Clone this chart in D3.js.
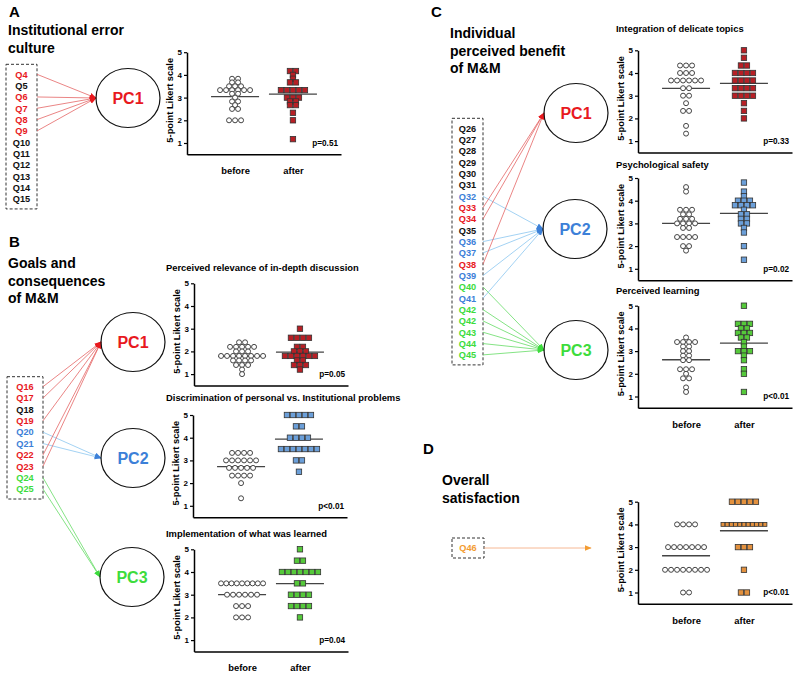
<!DOCTYPE html>
<html>
<head>
<meta charset="utf-8">
<script src="https://cdn.jsdelivr.net/npm/d3@7"></script>
<style>
body{margin:0;background:#fff;}
svg{font-family:"Liberation Sans",Arial,sans-serif;}
</style>
</head>
<body>
<div id="fig"></div>
<script>
// questionnaire items and the component each one loads on (0 = none, 4 = overall)
const qA = ["Q4","Q5","Q6","Q7","Q8","Q9","Q10","Q11","Q12","Q13","Q14","Q15"];
const qAGroup = [1,0,1,1,1,1,0,0,0,0,0,0];
const qB = ["Q16","Q17","Q18","Q19","Q20","Q21","Q22","Q23","Q24","Q25"];
const qBGroup = [1,1,0,1,2,2,1,1,3,3];
const qC = ["Q26","Q27","Q28","Q29","Q30","Q31","Q32","Q33","Q34","Q35","Q36","Q37","Q38","Q39","Q40","Q41","Q42","Q42","Q43","Q44","Q45"];
const qCGroup = [0,0,0,0,0,0,2,1,1,0,2,2,1,2,3,2,3,3,3,3,3];
const qD = ["Q46"];
const qDGroup = [4];
const pcNames = ["PC1","PC2","PC3"];

const groups = ["before","after"];
const likertTicks = [1,2,3,4,5];

// A - institutional error culture
const aBefore = [3.83,3.83,3.67,3.67,3.5,3.5,3.5,3.33,3.33,3.33,3.33,3.33,3.33,3.17,3.17,3.0,2.83,2.83,2.67,2.5,2.5,2.0,2.0,2.0];
const aAfter = [4.17,4.17,4.0,3.83,3.67,3.67,3.33,3.33,3.33,3.33,3.33,3.0,3.0,3.0,2.83,2.83,2.67,2.67,2.33,2.0,1.17];
const aMeans = [3.04,3.15];
// B - goals and consequences
const b1Before = [2.4,2.4,2.2,2.2,2.2,2.2,2.2,2.0,2.0,2.0,1.8,1.8,1.8,1.8,1.8,1.8,1.8,1.8,1.6,1.6,1.6,1.6,1.4,1.4,1.4,1.2,1.0];
const b1After = [3.0,2.6,2.6,2.6,2.6,2.2,2.2,2.0,2.0,2.0,1.8,1.8,1.8,1.8,1.8,1.8,1.6,1.6,1.4,1.4,1.4,1.2];
const b1Means = [1.78,1.97];
const b2Before = [3.33,3.33,3.33,3.33,3.0,3.0,3.0,3.0,3.0,3.0,2.67,2.67,2.67,2.67,2.67,2.33,2.33,2.33,2.33,2.0,1.33];
const b2After = [5,5,5,5,5,4.5,4.5,4,4,4,4,3.5,3.5,3.5,3.5,3.5,3.5,3.5,3,3,2.5];
const b2Means = [2.73,3.94];
const b3Before = [3.5,3.5,3.5,3.5,3.5,3.5,3.5,3.5,3.5,3,3,3,3,3,3,2.5,2.5,2.5,2,2,2];
const b3After = [5,4.5,4.5,4,4,4,4,4,4,4,3.5,3.5,3,3,3,3,2.5,2.5,2.5,2.5,2];
const b3Means = [3.0,3.49];
// C - individual perceived benefit
const c1Before = [4.33,4.33,4.33,4,4,4,3.67,3.67,3.67,3.67,3.67,3.67,3.33,3.33,3,3,2.67,2.33,2.33,1.67,1.33];
const c1After = [5,4.67,4.33,4.33,4,4,4,4,3.67,3.67,3.67,3.67,3.33,3.33,3.33,3.33,3,3,3,3,2.67,2.33,2];
const c1Means = [3.32,3.54];
const c2Before = [4.6,4.4,3.6,3.6,3.6,3.4,3.4,3.2,3.2,3.2,3.0,3.0,3.0,3.0,2.8,2.8,2.4,2.4,2.4,2.4,2.0,2.0,1.8];
const c2After = [4.8,4.4,4.2,4.0,4.0,4.0,3.8,3.8,3.8,3.8,3.6,3.4,3.4,3.2,3.2,3.0,3.0,2.8,2.6,2.0,1.4];
const c2Means = [3.0,3.44];
const c3Before = [3.6,3.4,3.4,3.4,3.4,3.2,3.2,3.0,3.0,2.8,2.8,2.6,2.6,2.2,2.2,2.2,2.0,1.8,1.8,1.4,1.2];
const c3After = [5,4.2,4.2,4.2,4.0,4.0,3.8,3.8,3.8,3.6,3.6,3.4,3.2,3.0,3.0,3.0,2.8,2.6,2.2,2.0,1.2];
const c3Means = [2.62,3.35];
// D - overall satisfaction
const dBefore = [4,4,4,4,3,3,3,3,3,3,3,2,2,2,2,2,2,2,2,1,1];
const dAfter = [5,5,5,5,5,4,4,4,4,4,4,4,4,4,4,4,3,3,3,2,1,1];
const dMeans = [2.62,3.72];

const pValues = ["p=0.51","p=0.05","p<0.01","p=0.04","p=0.33","p=0.02","p<0.01","p<0.01"];
const plotTitles = ["","Perceived relevance of in-depth discussion","Discrimination of personal vs. Institutional problems",
  "Implementation of what was learned","Integration of delicate topics","Psychological safety","Perceived learning",""];

const textColor = ["#111","#e8191e","#3c80d8","#3ddc3d","#f39c32"];
const lineColor = ["#111","#e46666","#8cc6f0","#66dc66","#f4a678"];
const fillColor = {1:"#b71f25",2:"#6b9fd9",3:"#55c93a",4:"#e3913e"};

const svg = d3.select("#fig").append("svg")
    .attr("width", 793)
    .attr("height", 676);

// arrow heads
svg.append("defs").selectAll("marker")
    .data(lineColor)
    .join("marker")
    .attr("id", (d,i) => "arr" + i)
    .attr("markerUnits", "userSpaceOnUse")
    .attr("markerWidth", 7).attr("markerHeight", 7)
    .attr("viewBox", "0 0 10 10")
    .attr("refX", 9).attr("refY", 5)
    .attr("orient", "auto")
    .append("path")
    .attr("d", "M0,1L10,5L0,9Z")
    .attr("fill", (d,i) => i == 0 ? "#111" : textColor[i]);

// panel headings
function heading(x, y, letter, lines, lx, ly){
    svg.append("text").attr("x", x).attr("y", y)
        .attr("font-size", 15).attr("font-weight", "bold").text(letter);
    lines.forEach((l,i) => {
        svg.append("text").attr("x", lx).attr("y", ly + i*17.5)
            .attr("font-size", 14).attr("font-weight", "bold").text(l);
    });
}
heading(9, 17, "A", ["Institutional error","culture"], 8, 35);
heading(9, 247, "B", ["Goals and","consequences","of M&M"], 8, 268);
heading(431, 17, "C", ["Individual","perceived benefit","of M&M"], 450, 38);
heading(423, 454, "D", ["Overall","satisfaction"], 442, 485);

// item box with arrows to the component circles
function diagram(items, itemGroup, box, circles){
    const g = svg.append("g");
    const yq = i => box.y0 + i*box.step;
    const last = yq(items.length - 1);
    g.append("rect")
        .attr("x", box.x).attr("y", box.y0 - 10)
        .attr("width", box.w).attr("height", last - box.y0 + 20)
        .attr("fill", "none").attr("stroke", "#333")
        .attr("stroke-width", 1).attr("stroke-dasharray", "3,2");

    items.forEach((q,i) => {
        const gr = itemGroup[i];
        const t = circles.find(c => c.group == gr);
        if (!t) return;
        g.append("line")
            .attr("x1", box.x + box.w).attr("y1", yq(i))
            .attr("x2", t.tx).attr("y2", t.ty)
            .attr("stroke", lineColor[gr]).attr("stroke-width", 0.8)
            .attr("marker-end", "url(#arr" + gr + ")");
    });

    g.selectAll("text.q")
        .data(items)
        .join("text")
        .attr("class", "q")
        .attr("x", box.x + box.w/2)
        .attr("y", (d,i) => yq(i) + 3.3)
        .attr("text-anchor", "middle")
        .attr("font-size", 9.2).attr("font-weight", "bold")
        .attr("fill", (d,i) => textColor[itemGroup[i]])
        .text(d => d);

    circles.filter(c => c.name).forEach(c => {
        g.append("ellipse")
            .attr("cx", c.cx).attr("cy", c.cy).attr("rx", 32).attr("ry", 29.5)
            .attr("fill", "none").attr("stroke", "#111").attr("stroke-width", 1.2);
        g.append("text")
            .attr("x", c.cx).attr("y", c.cy + 5.5)
            .attr("text-anchor", "middle")
            .attr("font-size", 16).attr("font-weight", "bold")
            .attr("fill", textColor[c.group])
            .text(c.name);
    });
}

const pc = (name, group, cx, cy) => ({name, group, cx, cy, tx: cx - 32, ty: cy});

diagram(qA, qAGroup, {x: 6, w: 31, y0: 74.3, step: 11.33},
    [pc(pcNames[0], 1, 128, 98)]);
diagram(qB, qBGroup, {x: 7, w: 36, y0: 386.7, step: 11.37},
    [pc(pcNames[0], 1, 133, 342), pc(pcNames[1], 2, 133, 458), pc(pcNames[2], 3, 132, 577)]);
diagram(qC, qCGroup, {x: 452, w: 31, y0: 128.3, step: 11.33},
    [pc(pcNames[0], 1, 576, 113), pc(pcNames[1], 2, 575, 229), pc(pcNames[2], 3, 576, 350)]);
diagram(qD, qDGroup, {x: 452, w: 32, y0: 548, step: 11.33},
    [{name: "", group: 4, tx: 591, ty: 548}]);

// before / after dot plots
function rows(vals){
    const out = [];
    d3.groups(vals, v => v.toFixed(2)).forEach(([k, vs]) => {
        const n = vs.length;
        const pitch = n > 1 ? Math.min(6, 42/(n-1)) : 6;
        vs.forEach((v,i) => out.push({v: v, dx: (i - (n-1)/2)*pitch, pitch: pitch}));
    });
    return out;
}

function dotPlot(p){
    const w = 154, unit = 22.7;
    const x = d3.scalePoint().domain(groups).range([0, w]).padding(0.83);
    const y = d3.scaleLinear().domain([0.5, 5]).range([4.5*unit, 0]);

    const g = svg.append("g").attr("transform", "translate(" + p.x + "," + p.y + ")");

    if (p.title) {
        svg.append("text")
            .attr("x", p.tx).attr("y", p.ty)
            .attr("font-size", 9.4).attr("font-weight", "bold")
            .text(p.title);
    }

    const ya = g.append("g")
        .call(d3.axisLeft(y).tickValues(likertTicks).tickFormat(d3.format("d"))
            .tickSize(3).tickSizeOuter(0).tickPadding(2));
    ya.selectAll("text").attr("font-size", 8).attr("font-weight", "bold")
        .attr("font-family", "Liberation Sans, Arial, sans-serif");

    const xa = g.append("g")
        .attr("transform", "translate(0," + y(0.5) + ")")
        .call(d3.axisBottom(x).tickSize(0).tickSizeOuter(0).tickPadding(13)
            .tickFormat(d => p.labels ? d : ""));
    xa.selectAll("text").attr("font-size", 9.4).attr("font-weight", "bold")
        .attr("font-family", "Liberation Sans, Arial, sans-serif");

    g.selectAll(".domain").attr("stroke", "#000").attr("stroke-width", 1.5);
    g.selectAll(".tick line").attr("stroke", "#000").attr("stroke-width", 1.2);

    g.append("text")
        .attr("transform", "translate(-14," + ((y(0.5) + y(5))/2 - 3) + ") rotate(-90)")
        .attr("text-anchor", "middle")
        .attr("font-size", 9.3).attr("font-weight", "bold")
        .text("5-point Likert scale");

    // group means
    g.selectAll("line.mean")
        .data(p.means)
        .join("line")
        .attr("class", "mean")
        .attr("x1", (d,i) => x(groups[i]) - 24)
        .attr("x2", (d,i) => x(groups[i]) + 24)
        .attr("y1", d => y(d)).attr("y2", d => y(d))
        .attr("stroke", "#444").attr("stroke-width", 1.3);

    g.selectAll("circle.pre")
        .data(rows(p.before))
        .join("circle")
        .attr("class", "pre")
        .attr("cx", d => x(groups[0]) + d.dx)
        .attr("cy", d => y(d.v))
        .attr("r", 2.5)
        .attr("fill", "#fff").attr("stroke", "#444").attr("stroke-width", 1);

    g.selectAll("rect.post")
        .data(rows(p.after))
        .join("rect")
        .attr("class", "post")
        .each(function(d){
            const s = Math.min(5.4, d.pitch - 0.3);
            d3.select(this)
                .attr("x", x(groups[1]) + d.dx - s/2)
                .attr("y", y(d.v) - s/2)
                .attr("width", s).attr("height", s);
        })
        .attr("fill", fillColor[p.group]).attr("stroke", "#333").attr("stroke-width", 0.8);

    g.append("text")
        .attr("x", w - 3).attr("y", y(1) + 3)
        .attr("text-anchor", "end")
        .attr("font-size", 8.2).attr("font-weight", "bold")
        .text(p.pv);
}

dotPlot({x: 187, y: 52.2, before: aBefore, after: aAfter, means: aMeans, pv: pValues[0], group: 1, labels: true});
dotPlot({x: 194, y: 283.3, before: b1Before, after: b1After, means: b1Means, pv: pValues[1], group: 1,
    title: plotTitles[1], tx: 166, ty: 271});
dotPlot({x: 193, y: 415, before: b2Before, after: b2After, means: b2Means, pv: pValues[2], group: 2,
    title: plotTitles[2], tx: 166, ty: 401});
dotPlot({x: 194, y: 549.3, before: b3Before, after: b3After, means: b3Means, pv: pValues[3], group: 3,
    title: plotTitles[3], tx: 166, ty: 537, labels: true});
dotPlot({x: 638, y: 50.3, before: c1Before, after: c1After, means: c1Means, pv: pValues[4], group: 1,
    title: plotTitles[4], tx: 616, ty: 32});
dotPlot({x: 638, y: 178, before: c2Before, after: c2After, means: c2Means, pv: pValues[5], group: 2,
    title: plotTitles[5], tx: 616, ty: 168});
dotPlot({x: 638, y: 305.7, before: c3Before, after: c3After, means: c3Means, pv: pValues[6], group: 3,
    title: plotTitles[6], tx: 616, ty: 294, labels: true});
dotPlot({x: 638, y: 501.7, before: dBefore, after: dAfter, means: dMeans, pv: pValues[7], group: 4, labels: true});
</script>
</body>
</html>
